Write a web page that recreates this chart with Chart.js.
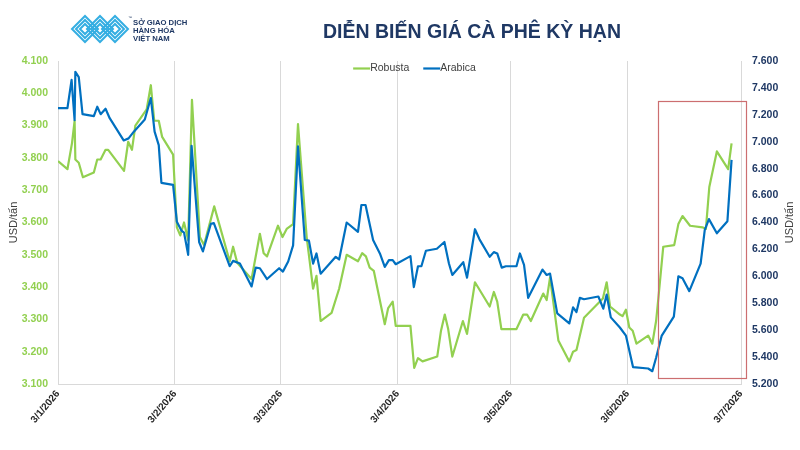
<!DOCTYPE html>
<html><head><meta charset="utf-8">
<script src="https://cdn.jsdelivr.net/npm/chart.js@4.4.1/dist/chart.umd.min.js"></script>
<style>html,body{margin:0;padding:0;background:#fff;}canvas{display:block;}</style>
</head><body>
<canvas id="c" width="800" height="450"></canvas>
<script>
// ---- data ----
// x = days since 3/1/2026
const xTickDays = [0, 31, 59, 90, 120, 151, 181];
const xTickLabels = ['3/1/2026','3/2/2026','3/3/2026','3/4/2026','3/5/2026','3/6/2026','3/7/2026'];
const leftTicks = [3100,3200,3300,3400,3500,3600,3700,3800,3900,4000,4100];
const rightTicks = [5200,5400,5600,5800,6000,6200,6400,6600,6800,7000,7200,7400,7600];
const seriesNames = ['Robusta', 'Arabica'];

const robustaDays = [0,2.5,3.7,4.4,4.6,5.5,6.6,9.5,10.4,11.3,
  12.6,13.3,17.5,18.6,19.6,20.5,23.5,24.6,25.5,26.7,
  27.6,30.5,31.5,32.4,33.4,34.5,35.5,37.6,38.7,41.4,
  45.5,46.4,47.5,51.3,53.5,54.5,55.4,58.3,59.5,60.6,
  62.3,63.6,65.9,67.6,68.5,69.6,72.5,74.5,76.5,79.5,
  80.6,81.6,82.6,83.7,86.6,87.5,88.7,89.5,93.4,94.4,
  95.4,96.6,100.5,101.5,102.5,103.4,104.5,107.3,108.4,109.3,
  110.5,114.4,115.5,116.4,117.5,121.5,123.3,124.3,125.3,128.6,
  129.5,130.4,132.6,135.5,136.5,137.4,139.4,144.4,145.4,146.3,
  148.9,149.6,150.5,151.4,152.3,153.3,156.4,157.5,158.5,159.1,
  160.4,163.3,164.4,165.5,167.5,170.8,171.7,172.6,174.6,177.6,
  178.5];
const robustaValues = [3790,3765,3845,3915,3795,3785,3740,3755,3795,3795,
  3825,3825,3760,3850,3825,3900,3950,4025,3915,3915,
  3865,3810,3585,3560,3600,3545,3980,3555,3530,3650,
  3480,3525,3475,3425,3565,3505,3495,3590,3555,3580,
  3595,3905,3555,3395,3435,3295,3320,3395,3500,3480,
  3505,3495,3460,3450,3285,3335,3355,3280,3280,3150,
  3180,3170,3185,3265,3315,3270,3185,3295,3255,3325,
  3415,3340,3385,3355,3270,3270,3315,3315,3295,3380,
  3360,3430,3235,3170,3200,3205,3305,3365,3415,3340,
  3315,3310,3330,3275,3265,3225,3250,3225,3295,3365,
  3525,3530,3595,3620,3590,3585,3580,3710,3820,3765,
  3845];

const arabicaDays = [0,2.5,3.6,4.4,4.6,5.5,6.5,9.5,10.4,11.3,
  12.6,13.7,17.4,18.7,20.1,23.0,24.6,25.6,26.7,27.4,
  30.5,31.5,32.7,33.4,34.5,35.4,37.4,38.4,40.5,41.3,
  45.5,46.4,48.2,51.3,52.4,53.5,55.4,58.6,59.6,61.0,
  62.3,63.6,65.4,66.5,67.6,68.5,69.6,73.6,74.5,76.5,
  79.5,80.4,81.5,83.5,85.3,86.6,87.7,88.7,89.5,93.4,
  94.3,95.4,96.3,97.5,100.4,102.4,103.6,104.5,107.4,108.4,
  110.5,111.7,114.4,115.5,116.4,117.6,118.7,121.5,122.4,123.5,
  124.6,128.4,129.5,130.4,132.3,135.5,136.5,137.4,138.3,139.4,
  143.2,144.5,145.4,146.5,148.9,150.5,152.4,156.4,157.5,158.5,
  160.0,163.2,164.4,165.5,167.3,170.3,171.4,172.5,174.6,177.4,
  178.5];
const arabicaValues = [7250,7250,7460,7160,7520,7480,7205,7190,7260,7205,
  7245,7175,7010,7025,7075,7165,7325,7075,6975,6695,
  6680,6405,6340,6325,6160,6970,6255,6185,6390,6395,
  6075,6115,6095,5925,6065,6060,5980,6060,6035,6110,
  6230,6965,6270,6265,6095,6170,6020,6145,6125,6400,
  6330,6530,6530,6270,6170,6070,6120,6120,6090,6150,
  5920,6075,6075,6190,6205,6255,6095,6010,6105,5990,
  6350,6275,6145,6180,6170,6065,6075,6075,6170,6085,
  5840,6050,6010,6020,5725,5650,5770,5735,5840,5830,
  5850,5760,5865,5695,5620,5560,5325,5315,5295,5395,
  5560,5700,6000,5985,5890,6095,6345,6425,6320,6410,
  6865];

const titleText = 'DIỄN BIẾN GIÁ CÀ PHÊ KỲ HẠN';
const axisTitleText = 'USD/tấn';
const logoLines = ['SỞ GIAO DỊCH', 'HÀNG HÓA', 'VIỆT NAM'];
// highlighted period (days) and range on the Arabica axis
const highlightDays = [159.1, 182.3];
const highlightRange = [5245, 7300];

// ---- styling ----
const FONT = "'Liberation Sans', Arial, sans-serif";
const GREEN = '#92D050';
const BLUE = '#0070C0';
const NAVY = '#1F3864';
const fmt = v => String(v).replace(/\B(?=(\d{3})+(?!\d))/g, '.');

const toPoints = (xs, ys) => xs.map((d, i) => ({ x: d, y: ys[i] }));

const decor = {
  id: 'decor',
  afterDatasetsDraw(chart) {
    const { ctx, scales } = chart;
    const x = scales.x, y1 = scales.y1;
    const l = Math.round(x.getPixelForValue(highlightDays[0])) + 0.5;
    const r = Math.round(x.getPixelForValue(highlightDays[1])) + 0.5;
    const t = Math.round(y1.getPixelForValue(highlightRange[1])) + 0.5;
    const b = Math.round(y1.getPixelForValue(highlightRange[0])) + 0.5;
    ctx.save();
    ctx.strokeStyle = '#CC6E70';
    ctx.lineWidth = 1.2;
    ctx.strokeRect(l, t, r - l, b - t);
    ctx.restore();
  },
  afterDraw(chart) {
    const { ctx, chartArea } = chart;
    ctx.save();
    // title
    ctx.fillStyle = NAVY;
    ctx.font = `bold 19.5px ${FONT}`;
    ctx.textAlign = 'center';
    ctx.textBaseline = 'alphabetic';
    ctx.fillText(titleText, 472, 38);

    // logo mark
    ctx.strokeStyle = '#35AEE2';
    ctx.lineWidth = 2;
    ctx.lineJoin = 'miter';
    [85, 100, 115].forEach(cx => {
      [13, 9, 5].forEach(rr => {
        ctx.beginPath();
        ctx.moveTo(cx - rr, 29);
        ctx.lineTo(cx, 29 - rr);
        ctx.lineTo(cx + rr, 29);
        ctx.lineTo(cx, 29 + rr);
        ctx.closePath();
        ctx.stroke();
      });
    });
    // logo text
    ctx.fillStyle = NAVY;
    ctx.font = `bold 7.7px ${FONT}`;
    ctx.textAlign = 'left';
    logoLines.forEach((s, i) => ctx.fillText(s, 133, 25 + i * 8.2));
    ctx.font = `4px ${FONT}`;
    ctx.fillText('™', 128, 19);

    // legend
    ctx.font = `10.5px ${FONT}`;
    ctx.textBaseline = 'middle';
    const lineLen = 17, gap = 14;
    const ds = chart.data.datasets;
    const items = [ds[1], ds[0]]; // Robusta, Arabica
    const widths = items.map(d => ctx.measureText(d.label).width);
    const total = items.length * lineLen + widths.reduce((a, b) => a + b, 0) + gap;
    let lx = (chartArea.left + chartArea.right) / 2 + 15 - total / 2;
    const ly = chartArea.top + 7.5;
    items.forEach((d, i) => {
      ctx.strokeStyle = d.borderColor;
      ctx.lineWidth = 2.2;
      ctx.beginPath();
      ctx.moveTo(lx, ly);
      ctx.lineTo(lx + lineLen, ly);
      ctx.stroke();
      ctx.fillStyle = '#404040';
      ctx.fillText(d.label, lx + lineLen, ly);
      lx += lineLen + widths[i] + gap;
    });

    // axis titles
    ctx.font = `11px ${FONT}`;
    ctx.fillStyle = '#404040';
    ctx.textAlign = 'center';
    const cy = (chartArea.top + chartArea.bottom) / 2;
    [14, 790].forEach(tx => {
      ctx.save();
      ctx.translate(tx, cy);
      ctx.rotate(-Math.PI / 2);
      ctx.fillText(axisTitleText, 0, 0);
      ctx.restore();
    });
    ctx.restore();
  }
};

new Chart(document.getElementById('c'), {
  type: 'line',
  data: {
    datasets: [
      { label: seriesNames[1], data: toPoints(arabicaDays, arabicaValues), yAxisID: 'y1',
        borderColor: BLUE, backgroundColor: BLUE, borderWidth: 2.2, pointRadius: 0, tension: 0,
        borderJoinStyle: 'round', order: 0 },
      { label: seriesNames[0], data: toPoints(robustaDays, robustaValues), yAxisID: 'y',
        borderColor: GREEN, backgroundColor: GREEN, borderWidth: 2.2, pointRadius: 0, tension: 0,
        borderJoinStyle: 'round', order: 1 }
    ]
  },
  options: {
    responsive: false,
    animation: false,
    devicePixelRatio: 1,
    layout: { padding: { top: 61, left: 0, right: 0, bottom: 0 } },
    plugins: { legend: { display: false }, tooltip: { enabled: false }, title: { display: false } },
    scales: {
      x: {
        type: 'linear', position: 'bottom', min: xTickDays[0], max: xTickDays[xTickDays.length - 1],
        afterBuildTicks: s => { s.ticks = xTickDays.map(v => ({ value: v })); },
        afterFit: s => { s.height = 66; },
        ticks: {
          autoSkip: false, minRotation: 50, maxRotation: 50, padding: 4,
          color: '#262626', font: { family: FONT, size: 10, weight: 'bold' },
          callback: v => xTickLabels[xTickDays.indexOf(v)]
        },
        grid: { color: '#D9D9D9', lineWidth: 1, drawTicks: false },
        border: { color: '#D9D9D9' }
      },
      y: {
        position: 'left', min: leftTicks[0], max: leftTicks[leftTicks.length - 1],
        afterBuildTicks: s => { s.ticks = leftTicks.map(v => ({ value: v })); },
        afterFit: s => { s.width = 58; },
        ticks: { color: GREEN, padding: 10, font: { family: FONT, size: 10.5, weight: 'bold' }, callback: v => fmt(v) },
        grid: { display: false, drawTicks: false },
        border: { display: false }
      },
      y1: {
        position: 'right', min: rightTicks[0], max: rightTicks[rightTicks.length - 1],
        afterBuildTicks: s => { s.ticks = rightTicks.map(v => ({ value: v })); },
        afterFit: s => { s.width = 59; },
        ticks: { color: NAVY, padding: 11, font: { family: FONT, size: 10.5, weight: 'bold' }, callback: v => fmt(v) },
        grid: { display: false, drawTicks: false },
        border: { display: false }
      }
    }
  },
  plugins: [decor]
});
</script>
</body></html>
